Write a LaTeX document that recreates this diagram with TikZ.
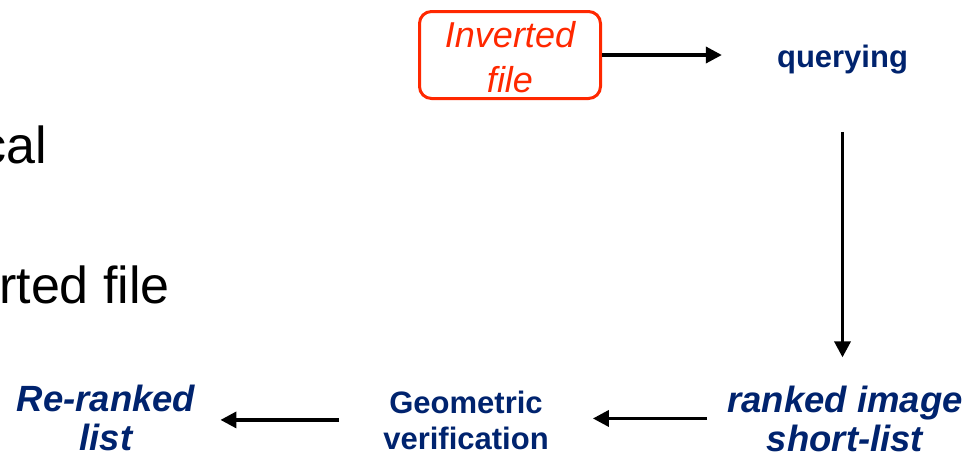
\documentclass[tikz,border=0pt]{standalone}
\usepackage{fontspec}
\setmainfont{Liberation Sans}
\usetikzlibrary{arrows.meta}
\definecolor{navy}{RGB}{0,35,110}
\definecolor{boxred}{RGB}{255,40,0}

\begin{document}
\begin{tikzpicture}[x=1pt,y=-1pt,
  arr/.style={line width=3.5pt,-{Triangle[length=16pt,width=16pt]}},
  slidetext/.style={inner sep=0pt,font=\fontsize{52}{60}\selectfont},
  stagebox/.style={inner sep=0pt,text=navy,align=center,
    font=\bfseries\fontsize{31}{36}\selectfont},
  resultbox/.style={inner sep=0pt,text=navy,align=center,
    font=\bfseries\itshape\fontsize{36.5}{39}\selectfont},
  invbox/.style={draw=boxred,line width=3pt,rounded corners=12pt,
    minimum width=181pt,minimum height=87pt,inner sep=0pt},
  invtext/.style={inner sep=0pt,text=boxred,align=center,
    font=\itshape\fontsize{36}{45}\selectfont}
]
\useasboundingbox (0,0) rectangle (973,459);

% bullet text of the slide, cut at the left edge
\node[slidetext,anchor=base east] (bul1) at (47,163) {cal};
\node[slidetext,anchor=base east] (bul2) at (170,303) {rted file};

% inverted file (base anchor = baseline of the last line)
\node[invbox] (inv) at (510,55) {};
\node[invtext,anchor=base] (invlbl) at (510,92) {Inverted\\file};

% pipeline stages
\node[stagebox,anchor=base] (qry) at (842.5,67) {querying};
\node[resultbox,anchor=base] (rank) at (845,451) {ranked image\\short-list};
\node[stagebox,anchor=base] (geo) at (466,449) {Geometric\\verification};
\node[resultbox,anchor=base] (rer) at (106,450) {Re-ranked\\list};

% connectors
\draw[arr,shorten >=55pt] (inv.east) -- (inv.east -| qry.west);
\draw[arr,shorten <=58pt,shorten >=28pt] (qry.south) -- (qry.south |- rank.north);
\draw[arr,shorten <=20pt,shorten >=44pt] (rank.west) -- (rank.west -| geo.east);
\draw[arr,shorten <=44pt,shorten >=25pt] (geo.west) -- (geo.west -| rer.east);
\end{tikzpicture}
\end{document}
